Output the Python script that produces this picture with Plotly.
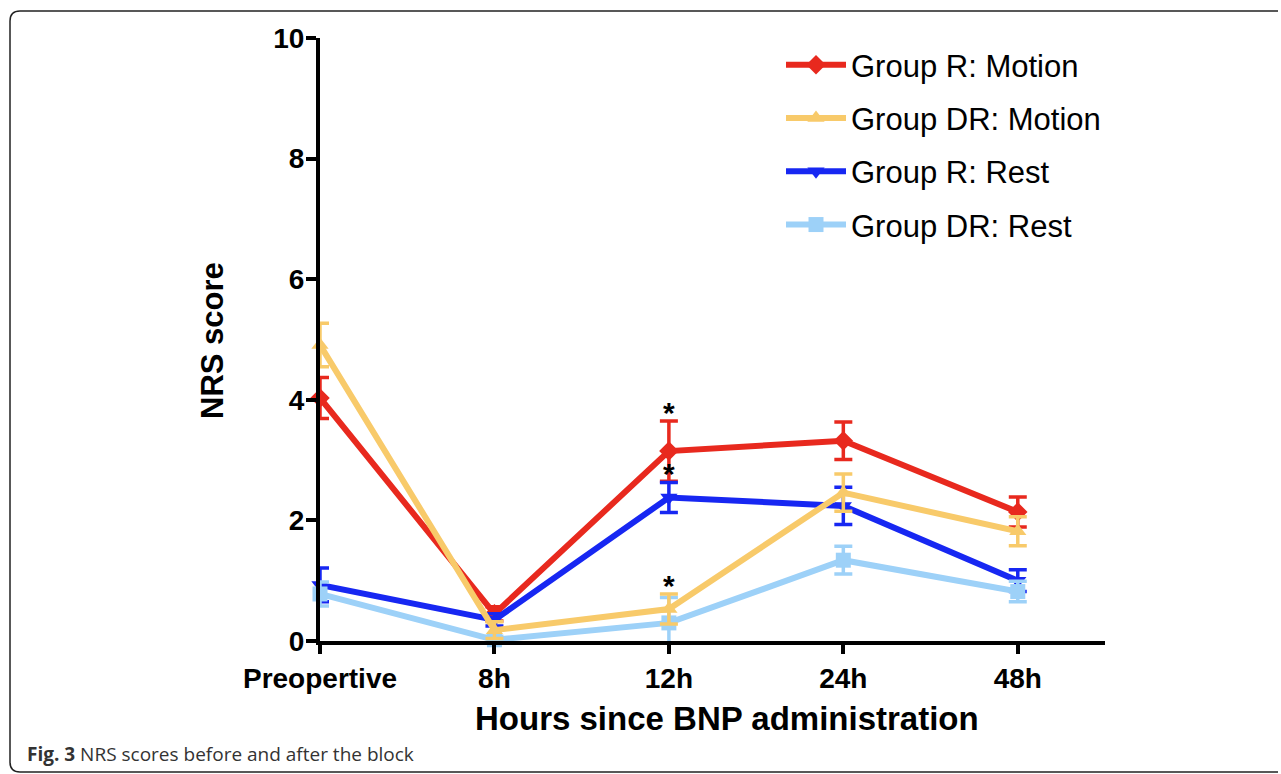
import plotly.graph_objects as go

categories = ["Preopertive", "8h", "12h", "24h", "48h"]
x_idx = list(range(len(categories)))

series_names = ["Group R: Motion", "Group DR: Motion", "Group R: Rest", "Group DR: Rest"]
r_motion = [4.03, 0.45, 3.15, 3.32, 2.14]
r_motion_err = [0.34, 0.12, 0.50, 0.31, 0.25]
dr_motion = [4.91, 0.18, 0.53, 2.46, 1.82]
dr_motion_err = [0.36, 0.14, 0.25, 0.31, 0.24]
r_rest = [0.93, 0.35, 2.38, 2.24, 1.00]
r_rest_err = [0.28, 0.10, 0.25, 0.31, 0.18]
dr_rest = [0.78, 0.02, 0.30, 1.34, 0.82]
dr_rest_err = [0.20, 0.06, 0.42, 0.23, 0.17]

y_ticks = [0, 2, 4, 6, 8, 10]

colors = {"Group R: Motion": "#E8291E", "Group DR: Motion": "#F8CA6A",
          "Group R: Rest": "#1727F2", "Group DR: Rest": "#9DD1F8"}
symbols = {"Group R: Motion": "diamond", "Group DR: Motion": "triangle-up",
           "Group R: Rest": "triangle-down", "Group DR: Rest": "square"}
data = {"Group R: Motion": (r_motion, r_motion_err),
        "Group DR: Motion": (dr_motion, dr_motion_err),
        "Group R: Rest": (r_rest, r_rest_err),
        "Group DR: Rest": (dr_rest, dr_rest_err)}
rank = {n: i + 1 for i, n in enumerate(series_names)}
draw_order = ["Group R: Motion", "Group R: Rest", "Group DR: Rest", "Group DR: Motion"]

fig = go.Figure()
for name in draw_order:
    vals, err = data[name]
    fig.add_trace(go.Scatter(
        x=x_idx, y=vals, name=name, mode="lines+markers",
        line=dict(color=colors[name], width=6),
        marker=dict(symbol=symbols[name], size=15, color=colors[name]),
        error_y=dict(type="data", array=err, visible=True, color=colors[name],
                     thickness=3.5, width=9),
        cliponaxis=False, legendrank=rank[name], legendgroup=name,
    ))

# significance asterisks at 12h
for name in ["Group R: Motion", "Group R: Rest", "Group DR: Motion"]:
    vals, err = data[name]
    fig.add_annotation(x=2, y=vals[2] + err[2], text="<b>*</b>", showarrow=False,
                       yanchor="bottom", yshift=-10,
                       font=dict(family="Liberation Sans", size=30, color="black"))

# plot area in page pixels
W, H = 1281, 774
PL, PR, PT, PB = 320, 1105, 38, 641
PW, PH = PR - PL, PB - PT
def px(x):
    return (x - PL) / PW
def py(y):
    return (PB - y) / PH

# frame (rounded, open on the right)
L, R = px(10), px(1278)
T, B = py(11), py(772)
rx, ry = 10 / PW, 10 / PH
path = (f"M {R},{T} L {L+rx},{T} Q {L},{T} {L},{T-ry} L {L},{B+ry} "
        f"Q {L},{B} {L+rx},{B} L {R},{B}")
fig.add_shape(type="path", path=path, xref="paper", yref="paper",
              line=dict(color="#222222", width=1.5), fillcolor="rgba(0,0,0,0)")

fig.add_annotation(xref="paper", yref="paper", x=px(25), y=py(754),
                   xanchor="left", yanchor="middle", showarrow=False,
                   text="<b>Fig. 3</b> NRS scores before and after the block",
                   font=dict(family="Open Sans", size=19, color="#333333"))

fig.add_annotation(xref="paper", yref="paper", x=px(727), y=py(718),
                   xanchor="center", yanchor="middle", showarrow=False,
                   text="<b>Hours since BNP administration</b>",
                   font=dict(family="Liberation Sans", size=33, color="black"))
fig.add_annotation(xref="paper", yref="paper", x=px(212), y=py(341),
                   xanchor="center", yanchor="middle", showarrow=False, textangle=-90,
                   text="<b>NRS score</b>",
                   font=dict(family="Liberation Sans", size=31, color="black"))

fig.update_layout(
    width=W, height=H,
    margin=dict(l=PL, r=W - PR, t=PT, b=H - PB),
    paper_bgcolor="white", plot_bgcolor="white",
    font=dict(family="Liberation Sans", color="black"),
    legend=dict(x=px(781), y=1.0, xanchor="left", yanchor="top",
                font=dict(family="Liberation Sans", size=31, color="black"),
                traceorder="grouped", tracegroupgap=10, itemwidth=60,
                bgcolor="rgba(0,0,0,0)"),
    xaxis=dict(range=[0, 4.5], tickvals=x_idx, ticktext=categories,
               showgrid=False, zeroline=False, showline=True, linewidth=4, linecolor="black",
               ticks="outside", ticklen=9, tickwidth=4, tickcolor="black",
               tickfont=dict(family="Liberation Sans", size=28, weight="bold")),
    yaxis=dict(range=[0, 10], tickvals=y_ticks, showgrid=False, zeroline=False,
               showline=True, linewidth=4, linecolor="black",
               ticks="outside", ticklen=10, tickwidth=4, tickcolor="black",
               ticklabelstandoff=-4,
               tickfont=dict(family="Liberation Sans", size=28, weight="bold")),
)

fig.write_html("out.html", config={"displayModeBar": False},
               post_script="document.body.style.margin='0px';document.body.style.overflow='hidden';")
